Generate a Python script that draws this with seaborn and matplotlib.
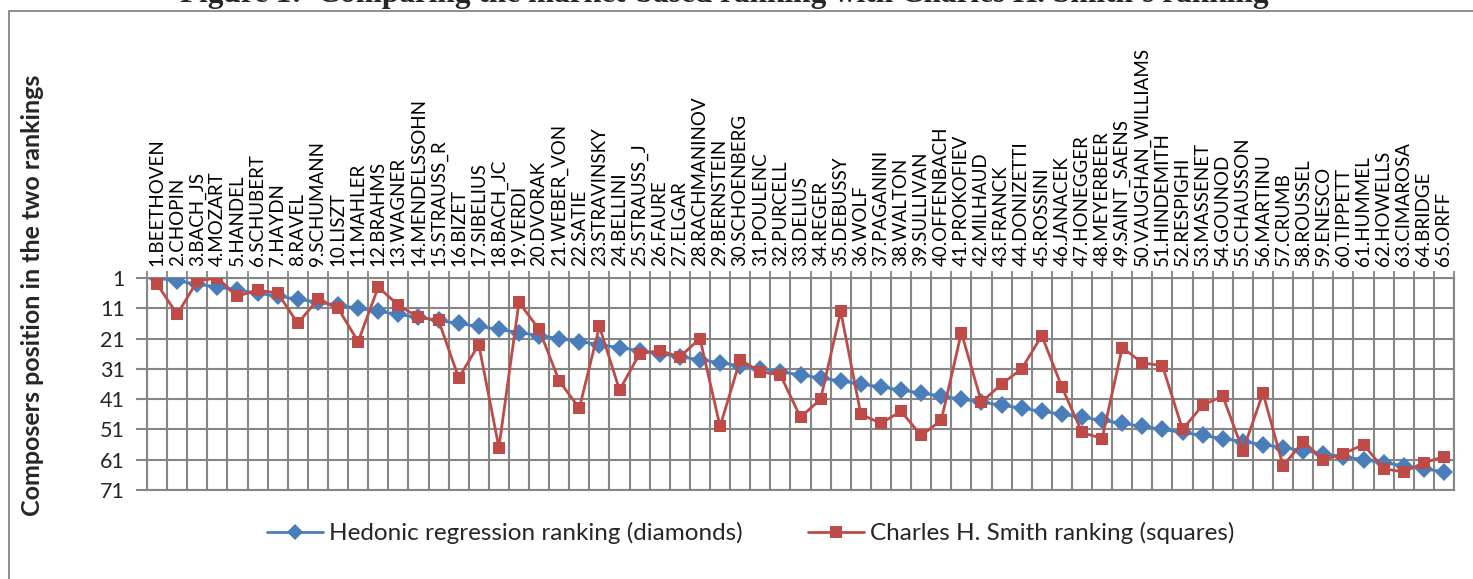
import numpy as np
import pandas as pd
import matplotlib
matplotlib.use("Agg")
import matplotlib.pyplot as plt
from matplotlib.lines import Line2D
import seaborn as sns

composers = ["BEETHOVEN", "CHOPIN", "BACH_JS", "MOZART", "HANDEL", "SCHUBERT", "HAYDN",
             "RAVEL", "SCHUMANN", "LISZT", "MAHLER", "BRAHMS", "WAGNER", "MENDELSSOHN",
             "STRAUSS_R", "BIZET", "SIBELIUS", "BACH_JC", "VERDI", "DVORAK", "WEBER_VON",
             "SATIE", "STRAVINSKY", "BELLINI", "STRAUSS_J", "FAURE", "ELGAR", "RACHMANINOV",
             "BERNSTEIN", "SCHOENBERG", "POULENC", "PURCELL", "DELIUS", "REGER", "DEBUSSY",
             "WOLF", "PAGANINI", "WALTON", "SULLIVAN", "OFFENBACH", "PROKOFIEV", "MILHAUD",
             "FRANCK", "DONIZETTI", "ROSSINI", "JANACEK", "HONEGGER", "MEYERBEER",
             "SAINT_SAENS", "VAUGHAN_WILLIAMS", "HINDEMITH", "RESPIGHI", "MASSENET", "GOUNOD",
             "CHAUSSON", "MARTINU", "CRUMB", "ROUSSEL", "ENESCO", "TIPPETT", "HUMMEL",
             "HOWELLS", "CIMAROSA", "BRIDGE", "ORFF"]
hedonic_rank = list(range(1, 66))
smith_rank = [3, 13, 2, 1, 7, 5, 6, 16, 8, 11, 22, 4, 10, 14, 15, 34, 23, 57, 9, 18,
              35, 44, 17, 38, 26, 25, 27, 21, 50, 28, 32, 33, 47, 41, 12, 46, 49, 45,
              53, 48, 19, 42, 36, 31, 20, 37, 52, 54, 24, 29, 30, 51, 43, 40, 58, 39,
              63, 55, 61, 59, 56, 64, 65, 62, 60]
tick_labels = [f"{i}.{c}" for i, c in zip(hedonic_rank, composers)]
y_ticks = [1, 11, 21, 31, 41, 51, 61, 71]

series_blue = "Hedonic regression ranking (diamonds)"
series_red = "Charles H. Smith ranking (squares)"

pos = np.arange(len(composers))
df = pd.DataFrame({
    "pos": np.concatenate([pos, pos]),
    "rank": hedonic_rank + smith_rank,
    "series": [series_blue] * len(pos) + [series_red] * len(pos),
})

sns.set_theme(style="white")
plt.rcParams["font.family"] = ["Lato", "DejaVu Sans"]

W, H = 1473, 579
fig = plt.figure(figsize=(W / 100, H / 100), dpi=100)
ax = fig.add_axes([147 / W, 1 - 490 / H, (1454 - 147) / W, (490 - 278) / H])

grid_c = "#868686"
blue = "#4A7EBB"
red = "#BE4B48"

sns.lineplot(data=df, x="pos", y="rank", hue="series", style="series",
             palette={series_blue: blue, series_red: red},
             markers={series_blue: "D", series_red: "s"}, dashes=False,
             markersize=9, linewidth=2.0, markeredgewidth=0, ax=ax, legend=False,
             zorder=5, sort=False)

ax.set_xlim(-0.5, len(composers) - 0.5)
ax.set_ylim(71, 1)
ax.set_yticks(y_ticks)
ax.set_yticklabels([str(v) for v in y_ticks], fontsize=15.5)
ax.xaxis.tick_top()
ax.set_xticks(pos)
ax.set_xticklabels(tick_labels, rotation=90, fontsize=13.5)
ax.set_xticks(np.arange(len(composers) + 1) - 0.5, minor=True)
ax.tick_params(axis="x", which="major", length=0, pad=9, colors="black")
ax.tick_params(axis="x", which="minor", length=5, width=1.3, color=grid_c, top=True, bottom=False)
ax.tick_params(axis="y", which="major", length=8, width=1.5, color=grid_c, left=True, pad=8)
ax.grid(False)
ax.xaxis.grid(True, which="minor", color=grid_c, linewidth=1.5)
ax.yaxis.grid(True, which="major", color=grid_c, linewidth=1.5)
for s in ax.spines.values():
    s.set_color(grid_c)
    s.set_linewidth(1.5)
ax.set_xlabel("")
ax.set_ylabel("")

fig.text(33 / W, 1 - 295 / H, "Composers position in the two rankings", rotation=90,
         ha="center", va="center", fontsize=18, fontweight="bold")

handles = [Line2D([], [], color=blue, marker="D", markersize=8.5, lw=2, markeredgewidth=0),
           Line2D([], [], color=red, marker="s", markersize=9, lw=2, markeredgewidth=0)]
fig.legend(handles, [series_blue, series_red], loc="center", bbox_to_anchor=(751 / W, 1 - 533 / H),
           ncol=2, frameon=False, fontsize=17.5, handlelength=2.3, handletextpad=0.25,
           columnspacing=2.7)

fig.text(724 / W, 1 - 2 / H, "Figure 1:  Comparing the market-based ranking with Charles H. Smith\u2019s ranking",
         ha="center", va="baseline", fontsize=22.5, fontweight="bold", family="Liberation Serif")

fig.add_artist(Line2D([9 / W, 9 / W], [0, 1 - 11 / H], color=grid_c, lw=1.3, transform=fig.transFigure))
fig.add_artist(Line2D([9 / W, 1], [1 - 11 / H, 1 - 11 / H], color=grid_c, lw=1.3, transform=fig.transFigure))

fig.savefig("out.png", dpi=100)
